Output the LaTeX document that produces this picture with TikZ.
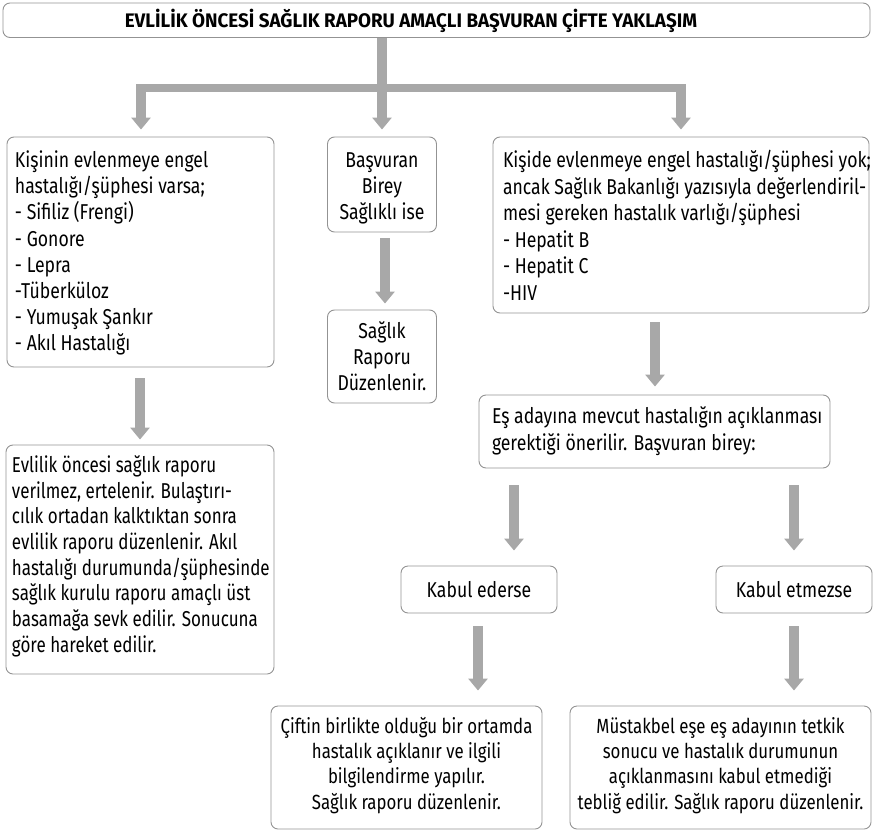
\documentclass[tikz,border=0pt]{standalone}
\usepackage{fontspec}
\setmainfont{Fira Sans}[FakeStretch=0.82]
\newfontfamily\headfam{Fira Sans}[FakeStretch=0.96]
\newfontfamily\narrowfam{Fira Sans}[FakeStretch=0.79]
\usepackage{array}
\usetikzlibrary{arrows.meta}

\definecolor{flowgray}{HTML}{A8A8A8}
\definecolor{boxgray}{HTML}{939393}

% size and line distance of the running text
\newcommand\fs[2]{\fontsize{#1}{#2}\selectfont}
\newcommand\headfont{\headfam\bfseries\fontsize{19.6bp}{22bp}\selectfont}
% fixed-size text blocks: width, height, lines
\newcommand\lblock[3]{\parbox[c][#2][t]{#1}{\begin{tabular}[t]{@{}l@{}}#3\end{tabular}}}
\newcommand\cblock[3]{\parbox[c][#2][t]{#1}{\centering\begin{tabular}[t]{@{}c@{}}#3\end{tabular}}}

\tikzset{
  box/.style={draw=boxgray, line width=0.9bp, rounded corners=7bp,
              inner sep=0pt, font=\fs{21.5bp}{26.2bp}},
  flow/.style={draw=flowgray, line width=10bp,
               -{Triangle[width=19bp,length=12bp]}},
  crossbar/.style={draw=flowgray, line width=8bp},
}

\begin{document}
\begin{tikzpicture}[x=1bp,y=-1bp]
\useasboundingbox (0,0) rectangle (873,831);

% heading
\node[box, font=\headfont, minimum width=867bp, minimum height=34.5bp,
      text height=14.5bp, text depth=0bp]
  (title) at (436.5,20.25) {\hspace*{-51bp}EVLİLİK ÖNCESİ SAĞLIK RAPORU AMAÇLI BAŞVURAN ÇİFTE YAKLAŞIM};

% left column
\node[box, inner xsep=8bp, inner ysep=12.2bp] (l1) at (140.5,252)
  {\lblock{251bp}{205.6bp}{%
  Kişinin evlenmeye engel\\
  hastalığı/şüphesi varsa;\\
  - Sifiliz (Frengi)\\
  - Gonore\\
  - Lepra\\
  -Tüberküloz\\
  - Yumuşak Şankır\\
  - Akıl Hastalığı}};

\node[box, font=\narrowfam\fs{21.5bp}{25.7bp}, inner xsep=6bp, inner ysep=9.5bp] (l2) at (140,559.5)
  {\lblock{256bp}{210bp}{%
  Evlilik öncesi sağlık raporu\\
  verilmez, ertelenir. Bulaştırı-\\
  cılık ortadan kalktıktan sonra\\
  evlilik raporu düzenlenir. Akıl\\
  hastalığı durumunda/şüphesinde\\
  sağlık kurulu raporu amaçlı üst\\
  basamağa sevk edilir. Sonucuna\\
  göre hareket edilir.}};

% middle column
\node[box, inner xsep=4bp, inner ysep=12.2bp] (m1) at (382,184.5)
  {\cblock{101bp}{70.6bp}{Başvuran\\ Birey\\ Sağlıklı ise}};
\node[box, inner xsep=4bp, inner ysep=10.2bp] (m2) at (382,356.5)
  {\cblock{101bp}{72.6bp}{Sağlık\\ Raporu\\ Düzenlenir.}};

% right column
\node[box, font=\fs{21.5bp}{26.6bp}, inner xsep=10bp, inner ysep=11.9bp] (r1) at (681,225)
  {\lblock{356bp}{152.2bp}{%
  Kişide evlenmeye engel hastalığı/şüphesi yok;\\
  ancak Sağlık Bakanlığı yazısıyla değerlendiril-\\
  mesi gereken hastalık varlığı/şüphesi\\
  - Hepatit B\\
  - Hepatit C\\
  -HIV}};

\node[box, font=\fs{21.5bp}{27bp}, inner xsep=13bp, inner ysep=9.6bp] (e1) at (654.5,431.5)
  {\lblock{325bp}{53.8bp}{%
  Eş adayına mevcut hastalığın açıklanması\\
  gerektiği önerilir. Başvuran birey:}};

\node[box, minimum width=156bp, minimum height=47bp] (k1) at (479,589.5) {Kabul ederse};
\node[box, minimum width=156bp, minimum height=47bp] (k2) at (794,589.5) {Kabul etmezse};

\node[box, font=\fs{20.5bp}{25.3bp}, inner xsep=4bp, inner ysep=9.6bp] (b1) at (406.5,767.5)
  {\cblock{263bp}{103.8bp}{%
  Çiftin birlikte olduğu bir ortamda\\
  hastalık açıklanır ve ilgili\\
  bilgilendirme yapılır.\\
  Sağlık raporu düzenlenir.}};
\node[box, font=\fs{20.5bp}{25.3bp}, inner xsep=3bp, inner ysep=9.6bp] (b2) at (720.5,767.5)
  {\cblock{295bp}{103.8bp}{%
  Müstakbel eşe eş adayının tetkik\\
  sonucu ve hastalık durumunun\\
  açıklanmasını kabul etmediği\\
  tebliğ edilir. Sağlık raporu düzenlenir.}};

% connector lanes
\coordinate (barL) at (136,88);
\coordinate (barR) at (686,88);
\coordinate (xl) at (141,0);
\coordinate (xt) at (382,0);
\coordinate (xm) at (385,0);
\coordinate (xr) at (681,0);
\coordinate (xd) at (140,0);
\coordinate (xe) at (655,0);
\coordinate (xa) at (514,0);
\coordinate (xb) at (794,0);
\coordinate (xc) at (478,0);

% branching below the heading
\draw[crossbar] (barL) -- (barR);
\draw[flow, shorten >=7bp] (title.south -| xt) -- (m1.north -| xt);
\draw[flow, shorten >=7bp] (barL -| xl) -- (l1.north -| xl);
\draw[flow, shorten >=7bp] (barR -| xr) -- (r1.north -| xr);

% column flows
\draw[flow, shorten <=11bp, shorten >=5bp] (l1.south -| xd) -- (l2.north -| xd);
\draw[flow, shorten <=6bp, shorten >=6bp] (m1.south -| xm) -- (m2.north -| xm);
\draw[flow, shorten <=9bp, shorten >=8bp] (r1.south -| xe) -- (e1.north -| xe);
\draw[flow, shorten <=17bp, shorten >=15bp] (e1.south -| xa) -- (k1.north -| xa);
\draw[flow, shorten <=17bp, shorten >=15bp] (e1.south -| xb) -- (k2.north -| xb);
\draw[flow, shorten <=13bp, shorten >=15bp] (k1.south -| xc) -- (b1.north -| xc);
\draw[flow, shorten <=13bp, shorten >=15bp] (k2.south -| xb) -- (b2.north -| xb);
\end{tikzpicture}
\end{document}
